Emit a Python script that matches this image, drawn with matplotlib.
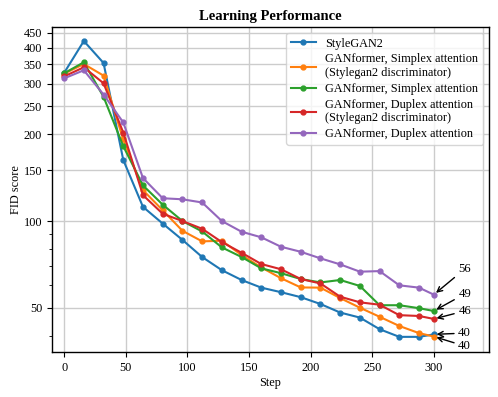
import numpy as np
import matplotlib
matplotlib.use("Agg")
import matplotlib.pyplot as plt
from matplotlib.ticker import FixedLocator, FixedFormatter, NullFormatter

plt.rcParams['font.family'] = ['Liberation Serif', 'DejaVu Serif']
plt.rcParams['mathtext.fontset'] = 'stix'

# training steps (x values)
steps = [0, 16, 32, 48, 64, 80, 96, 112, 128, 144, 160, 176, 192, 208, 224, 240, 256, 272, 288, 300]

# FID scores
stylegan2 = [327, 422, 354, 163, 112, 98, 86, 75, 67.5, 62.4, 58.7, 56.6, 54.4, 51.5, 48.1, 46.2, 42.1, 39.6, 39.6, 40.4]
simplex_sg2 = [325, 351, 320, 192, 128, 109, 92.5, 85, 85.4, 76.2, 69, 63.3, 58.8, 58.7, 54, 50, 46.5, 43.2, 40.8, 39.7]
simplex = [326, 356, 270, 182, 133, 114, 100, 92, 81, 75, 68.5, 65.9, 62.9, 61.2, 62.4, 59.5, 51, 51, 49.8, 48.7]
duplex_sg2 = [318, 342, 301, 203, 123, 106, 100, 94, 84.5, 77.6, 70.9, 68, 62.9, 60.7, 54.6, 52.2, 51.2, 47.1, 46.8, 45.7]
duplex = [313, 334, 275, 220, 141, 120, 119, 116, 100, 91.8, 87.8, 81.4, 78.2, 74.2, 70.7, 66.7, 67, 59.8, 58.7, 55.5]

labels = ['StyleGAN2',
          'GANformer, Simplex attention\n(Stylegan2 discriminator)',
          'GANformer, Simplex attention',
          'GANformer, Duplex attention\n(Stylegan2 discriminator)',
          'GANformer, Duplex attention']
colors = ['#1f77b4', '#ff7f0e', '#2ca02c', '#d62728', '#9467bd']

# where the final-value annotations sit (data coords)
note_x = 325
note_y = [40.8, 36.8, 55.8, 48.7, 68.1]  # blue, orange, green, red, purple

yticks = [50, 100, 150, 200, 250, 300, 350, 400, 450]
xticks = [0, 50, 100, 150, 200, 250, 300]

fig = plt.figure(figsize=(4.98, 3.97), dpi=100)
ax = fig.add_axes([0.104, 0.1126, 0.8785, 0.82])

series = [stylegan2, simplex_sg2, simplex, duplex_sg2, duplex]
for vals, lab, col in zip(series, labels, colors):
    ax.plot(steps, vals, '-o', color=col, label=lab, linewidth=1.5, markersize=3.5)

for vals, ny in zip(series, note_y):
    ax.annotate('%d' % round(vals[-1]), xy=(steps[-1], vals[-1]), xytext=(note_x, ny),
                ha='center', va='center', fontsize=9.2,
                arrowprops=dict(arrowstyle='->', color='black', lw=1, shrinkA=1, shrinkB=2))

ax.set_yscale('log')
ax.set_ylim(35, 473)
ax.set_xlim(-10, 345)
ax.yaxis.set_major_locator(FixedLocator(yticks))
ax.yaxis.set_major_formatter(FixedFormatter([str(t) for t in yticks]))
ax.yaxis.set_minor_locator(FixedLocator([40, 60, 70, 80, 90]))
ax.yaxis.set_minor_formatter(NullFormatter())
ax.set_xticks(xticks)
ax.set_xticks([340], minor=True)
ax.tick_params(axis='x', which='minor', length=0)
ax.tick_params(axis='both', which='major', labelsize=8.8, length=3.5, width=0.8)
ax.tick_params(axis='y', which='minor', length=2, width=0.6)

ax.grid(True, which='major', color='#cccccc', linewidth=1)
ax.grid(True, which='minor', axis='x', color='#cccccc', linewidth=1)
ax.set_axisbelow(True)
for s in ax.spines.values():
    s.set_linewidth(1)

ax.set_title('Learning Performance', fontsize=10.5, fontweight='bold', pad=5)
ax.set_xlabel('Step', fontsize=8.8, labelpad=2)
ax.set_ylabel('FID score', fontsize=8.8, labelpad=1)
ax.legend(loc='upper right', fontsize=8.8, handlelength=2, labelspacing=0.3)

fig.savefig('out.png', dpi=100)
